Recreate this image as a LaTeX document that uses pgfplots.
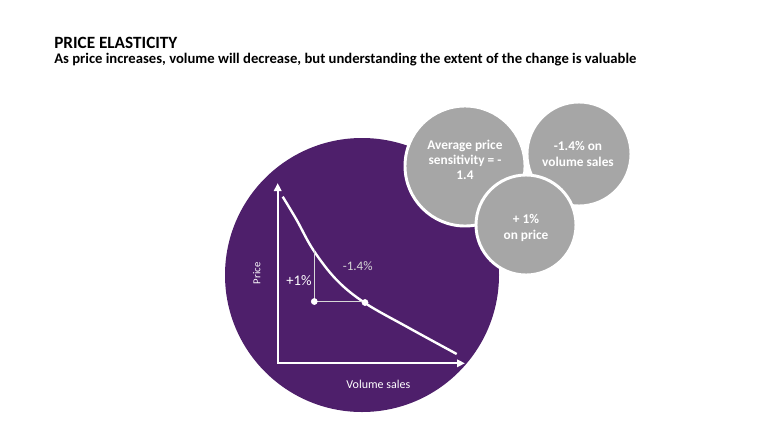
\documentclass[border=0pt]{standalone}
\usepackage{pgfplots}
\pgfplotsset{compat=1.18}
\usetikzlibrary{arrows.meta}
\usepackage{fontspec}
\setmainfont{Carlito}

\definecolor{elastpurple}{RGB}{78,31,107}
\definecolor{bubblegray}{RGB}{166,166,166}
\definecolor{stepgray}{RGB}{215,215,215}

\begin{document}
\begin{tikzpicture}
\begin{axis}[
  scale only axis,
  width=576pt, height=324.75pt,
  xmin=0, xmax=768, ymin=0, ymax=433,
  y dir=reverse,
  hide axis,
  clip=false,
]
% canvas
\fill[white] (axis cs:0,0) rectangle (axis cs:768,433);

% headline
\node[anchor=base west, font=\bfseries\fontsize{12.9}{15}\selectfont, inner sep=0pt]
  at (axis cs:54,48.3) {PRICE ELASTICITY};
\node[anchor=base west, font=\bfseries\fontsize{11}{13}\selectfont, inner sep=0pt]
  at (axis cs:54,63) {As price increases, volume will decrease, but understanding the extent of the change is valuable};

% main disc
\fill[elastpurple] (axis cs:362,275) circle[radius=102.75pt];

% bubbles
\filldraw[bubblegray, draw=white, line width=2.2pt] (axis cs:465,166) circle[radius=45pt];
\filldraw[bubblegray, draw=white, line width=2.2pt] (axis cs:579,154) circle[radius=39pt];
\filldraw[bubblegray, draw=white, line width=2.2pt] (axis cs:526,225) circle[radius=37.5pt];

% bubble captions (anchored at the baseline of the last line)
\node[white, font=\bfseries\fontsize{10}{11.25}\selectfont, align=center, anchor=base, inner sep=0pt]
  at (axis cs:465,179) {Average price\\sensitivity = -\\1.4};
\node[white, font=\bfseries\fontsize{10}{11.5}\selectfont, align=center, anchor=base, inner sep=0pt]
  at (axis cs:578,166) {-1.4\% on\\volume sales};
\node[white, font=\bfseries\fontsize{10}{12}\selectfont, align=center, anchor=base, inner sep=0pt]
  at (axis cs:526,239) {+ 1\%\\on price};

% price / volume axes
\addplot[white, line width=1.6pt, {Triangle[length=6pt,width=5.5pt]}-{Triangle[length=6pt,width=5.5pt]}]
  coordinates {(277.7,183) (277.7,363.3) (465,363.3)};

% demand curve
\addplot[white, line width=1.8pt, smooth, tension=0.6]
  coordinates {(282.7,196.7) (296.7,220) (313.3,250) (336.7,280) (365,303) (406.7,326.7) (456.7,354)};

% price step and volume response
\addplot[stepgray, line width=1.2pt]
  coordinates {(314.3,250) (314.3,301.5) (365,301.5)};
\addplot[only marks, mark=*, mark size=2.3pt, mark options={fill=white, draw=white}]
  coordinates {(314.3,301.5) (365,302.5)};

\node[white, font=\fontsize{11}{13}\selectfont, inner sep=0pt] at (axis cs:299,281) {+1\%};
\node[stepgray, font=\fontsize{9.75}{12}\selectfont, inner sep=0pt] at (axis cs:357.7,265.7) {-1.4\%};
\node[white, font=\fontsize{8}{10}\selectfont, rotate=90, inner sep=0pt] at (axis cs:256.7,273.3) {Price};
\node[white, font=\fontsize{9}{10}\selectfont, inner sep=0pt] at (axis cs:378.3,384) {Volume sales};
\end{axis}
\end{tikzpicture}
\end{document}
